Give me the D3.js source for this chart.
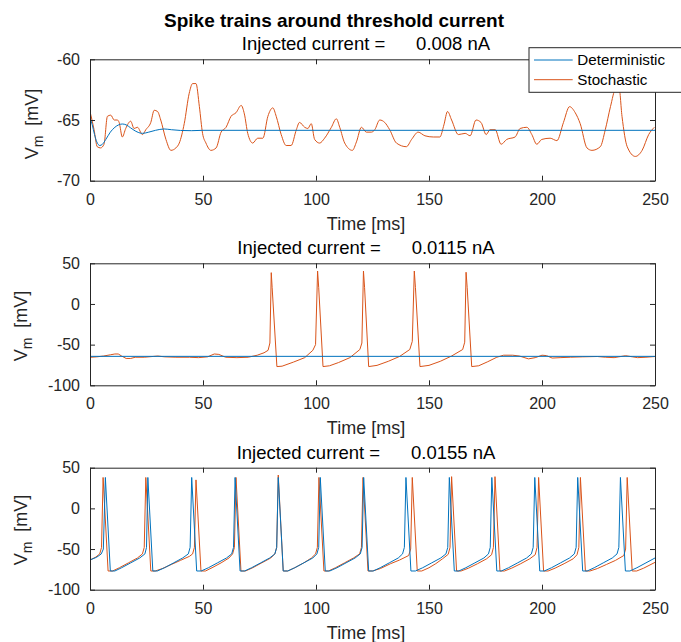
<!DOCTYPE html>
<html><head><meta charset="utf-8">
<script src="https://cdn.jsdelivr.net/npm/d3@7"></script>
<style>
body{margin:0;background:#fff}
svg{display:block}
text{font-family:"Liberation Sans",Arial,Helvetica,sans-serif}
</style>
</head><body>
<svg id="chart" width="681" height="642"></svg>
<script>
// ---------- DATA ----------
const figureTitle = "Spike trains around threshold current";
const currents = ["0.008", "0.0115", "0.0155"];
const seriesNames = ["Deterministic", "Stochastic"];
const timeTicks = [0, 50, 100, 150, 200, 250];
const yTicksTop = [-70, -65, -60];
const yTicksSpike = [-100, -50, 0, 50];
const yDomainTop = [-70, -60];
const yDomainSpike = [-100, 50];

// Panel 1 (0.008 nA): [time ms, Vm mV]
const detTop = [[0,-64.8],[1,-65.4],[2,-66.2],[3,-66.8],[4.3,-67.1],[5.5,-67.0],[7,-66.6],[9,-66.0],[11,-65.6],[12.7,-65.4],[14.3,-65.33],[16,-65.4],[18,-65.65],[20,-65.9],[23.2,-66.1],[26,-66.0],[29,-65.85],[32.8,-65.74],[36,-65.8],[40,-65.86],[45,-65.88],[50,-65.85],[100,-65.85],[150,-65.85],[200,-65.85],[250,-65.85]];
const stoTop = [[0,-64.3],[1.8,-65.8],[3.2,-67.2],[4.7,-67.3],[6.2,-67.0],[7.7,-64.7],[9.2,-64.6],[10.7,-65.0],[12.1,-65.0],[12.9,-65.2],[14.3,-66.4],[15.8,-65.7],[18,-65.1],[19.5,-65.7],[21,-65.6],[23.2,-66.2],[24.7,-65.8],[26.9,-65.2],[28.4,-64.2],[29.9,-64.3],[31.3,-65.0],[33.6,-66.6],[35.8,-67.5],[38,-67.3],[39.5,-66.9],[41.7,-65.3],[43.9,-62.8],[45.4,-62.0],[46.9,-62.0],[48.4,-63.9],[49.8,-66.1],[51.3,-66.9],[53.5,-67.5],[55.8,-67.3],[58,-66.0],[60.2,-65.6],[62.4,-64.7],[64.6,-64.4],[66.9,-63.8],[68.3,-64.5],[69.8,-66.1],[72,-66.9],[74.2,-66.5],[76.5,-66.5],[78.7,-64.7],[80.9,-64.0],[82.4,-64.7],[84.6,-66.2],[86.8,-67.1],[89,-67.1],[91.3,-65.8],[92.7,-65.2],[95,-65.6],[96.4,-65.7],[97.9,-65.3],[99.4,-66.6],[101.6,-66.9],[103.8,-66.5],[106.8,-65.6],[109,-64.9],[110.5,-65.6],[112.7,-66.9],[116.1,-67.5],[117.9,-66.8],[120.1,-65.6],[122.3,-66.0],[124.5,-66.0],[126,-65.8],[128.2,-65.0],[130.4,-65.2],[132.6,-65.8],[135.6,-66.9],[140,-67.2],[142.3,-66.6],[145.2,-66.0],[148.2,-66.3],[151.9,-66.4],[154.8,-66.4],[156.6,-65.4],[158.2,-64.3],[160,-65.0],[163,-66.2],[166,-66.1],[168.2,-66.3],[170.8,-65.0],[173,-65.2],[175.3,-66.2],[177,-65.8],[179.3,-65.8],[181.9,-67.0],[184.4,-66.6],[188.1,-66.4],[190.3,-65.7],[193.3,-65.6],[195.5,-66.2],[197.7,-67.0],[199.9,-66.6],[203.6,-66.5],[206.6,-66.7],[209.5,-65.2],[212.2,-63.9],[214.7,-64.4],[216.9,-65.3],[219.9,-67.3],[222.1,-67.5],[225.8,-67.2],[228,-65.8],[230.3,-63.9],[232.5,-62.4],[234,-62.2],[235.4,-64.7],[237.7,-67.2],[241.3,-68.0],[244.3,-67.5],[247.2,-66.2],[249.7,-65.6]];

// Panel 2 (0.0115 nA)
const detMid = [[0,-64.4],[50,-64.4],[100,-64.4],[150,-64.4],[200,-64.4],[250,-64.4]];
const stoMid = [[0,-65.6],[3,-65],[6,-64],[9,-62.5],[11,-61.5],[12.5,-61.5],[14,-64],[16,-67],[18,-67],[20,-65.5],[24,-65.5],[28,-64.5],[30,-64],[33,-65],[38,-65.5],[44,-65.5],[48,-66],[52,-65],[55,-61.5],[57,-62],[60,-65.5],[65,-66],[70,-65.5],[74,-63],[77,-60],[78.8,-57],[79.6,-48],[80.2,38.5],[80.6,20],[82.7,-77],[85,-76.5],[90,-71.5],[95,-66],[98.6,-57],[99.8,-50],[100.7,40.5],[101.2,20],[103.1,-77],[106,-76],[110,-72],[115,-66],[119.4,-56],[120.3,-48],[121,40.5],[121.5,20],[123.3,-77],[127,-75.5],[132,-70.5],[137,-64.5],[141.5,-56],[142.6,-46],[143.5,40.5],[144,20],[146,-77],[150,-75.5],[155,-70.5],[160,-64],[164.9,-56],[165.8,-47],[166.4,39],[166.9,20],[168.9,-77],[172,-76],[176,-71],[180,-65.5],[183,-63],[187,-63],[190,-64],[194,-67.5],[197,-66],[200,-63],[202,-63.5],[204.5,-66.5],[208,-66],[212.6,-65.5],[218,-65],[224.5,-64.6],[228,-65.5],[231.9,-66],[234,-65],[237,-63.6],[240,-65],[242.3,-66],[246,-65.5],[250,-64.6]];

// Panel 3 (0.0155 nA)
const detBot = [[0,-63.5],[3,-60],[5,-56],[5.9,-50],[6.8,38],[9,-77],[11,-77],[14,-73],[18,-67],[22,-61],[24.3,-56],[25,-48],[25.6,38],[27.8,-77],[29.8,-77],[33,-73],[37,-67],[41,-61],[43.5,-56],[44.3,-48],[45,38],[47.2,-77],[49.2,-77],[52.4,-73],[56.4,-67],[60.4,-61],[62.7,-56],[63.5,-48],[64.2,38],[66.4,-77],[68.4,-77],[71.5,-73],[75.5,-67],[79.5,-61],[81.8,-56],[82.6,-48],[83.3,38],[85.5,-77],[87.5,-77],[90.6,-73],[94.6,-67],[98.6,-61],[100.4,-56],[101.2,-48],[101.9,38],[104.1,-77],[106.1,-77],[109.3,-73],[113.3,-67],[117.3,-61],[119.6,-56],[120.4,-48],[121.1,38],[123.3,-77],[125.3,-77],[128.4,-73],[132.4,-67],[136.4,-61],[138.3,-56],[139.1,-48],[139.8,38],[142,-77],[144,-77],[147.2,-73],[151.2,-67],[155.2,-61],[157.5,-56],[158.3,-48],[159,38],[161.2,-77],[163.2,-77],[166.3,-73],[170.3,-67],[174.3,-61],[176.3,-56],[177.1,-48],[177.8,38],[180,-77],[182,-77],[185.2,-73],[189.2,-67],[193.2,-61],[195.3,-56],[196.1,-48],[196.8,38],[199,-77],[201,-77],[204.2,-73],[208.2,-67],[212.2,-61],[214.3,-56],[215.1,-48],[215.8,38],[218,-77],[220,-77],[223.1,-73],[227.1,-67],[231.1,-61],[233.2,-56],[234,-48],[234.7,38],[236.9,-77],[238.9,-77],[242,-73],[246,-67],[250,-61]];
const stoBot = [[0,-63.5],[2.5,-60],[4.3,-56],[5.1,-48],[5.8,38],[8,-77],[10,-77],[13,-73],[17,-67],[21,-61],[23.2,-56],[24,-48],[24.7,38],[26.9,-77],[28.9,-77],[32,-74],[36,-69],[40,-64],[44,-59],[45.4,-56],[46.2,-48],[46.9,35],[49.1,-77],[51.1,-77],[54,-73],[58,-67],[61.5,-61],[63.1,-56],[63.9,-48],[64.6,38],[66.8,-77],[68.8,-77],[72,-73],[76,-67],[80,-61],[81.8,-56],[82.6,-48],[83.3,41],[85.5,-77],[87.5,-77],[90.6,-73],[94.6,-67],[98,-61],[99.8,-56],[100.6,-48],[101.3,38],[103.5,-77],[105.5,-77],[108.6,-73],[112.6,-67],[116.6,-61],[119.3,-56],[120.1,-48],[120.8,38],[123,-77],[125,-77],[128.5,-74],[133,-68],[137,-63.5],[141,-58],[141.9,-50],[142.6,38],[144.8,-77],[146.8,-77],[150,-73],[153,-68],[156,-62],[158.5,-56.5],[159.3,-48],[160,39],[162.2,-77],[164.2,-77],[167.5,-73.5],[171.5,-68],[175.5,-62],[177.7,-57],[178.5,-48],[179.2,39],[181.4,-77],[183.4,-77],[186.6,-73.5],[190.6,-68],[194.6,-62],[197,-57],[197.8,-48],[198.5,38],[200.7,-77],[202.7,-77],[205.8,-73.5],[209.8,-68],[213.8,-62],[215.5,-57],[216.3,-48],[217,38],[219.2,-77],[221.2,-77],[224.5,-74],[228.5,-69],[232.5,-64],[236.2,-58],[237,-50],[237.7,38],[239.9,-77],[241.9,-77],[245,-73.5],[250,-66.4]];

// ---------- LAYOUT / STYLE ----------
const colors = ["#0072BD", "#D95319"];
const axisColor = "#262626";
const L = 90, R = 655;
const panels = [
  {top: 59.3, bottom: 180.7, dom: yDomainTop, ticks: yTicksTop, det: detTop, sto: stoTop, cur: currents[0], ylabX: 38, ylabY: 124, spaces: "      ", smooth: true},
  {top: 263.3, bottom: 385.3, dom: yDomainSpike, ticks: yTicksSpike, det: detMid, sto: stoMid, cur: currents[1], ylabX: 27, ylabY: 326, spaces: "      ", smooth: false},
  {top: 467.7, bottom: 589.7, dom: yDomainSpike, ticks: yTicksSpike, det: detBot, sto: stoBot, cur: currents[2], ylabX: 27, ylabY: 530, spaces: "      ", smooth: false}
];

const svg = d3.select("#chart");
const x = d3.scaleLinear().domain([0, 250]).range([L, R]);
const fmt = d => String(d);

svg.append("text").attr("x", 334).attr("y", 27)
  .attr("text-anchor", "middle").attr("font-size", 19).attr("font-weight", "bold")
  .attr("fill", "#000").text(figureTitle);

panels.forEach((p, i) => {
  const y = d3.scaleLinear().domain(p.dom).range([p.bottom, p.top]);
  const g = svg.append("g");
  const clipId = "clip" + i;
  svg.append("clipPath").attr("id", clipId).append("rect")
    .attr("x", L).attr("y", p.top).attr("width", R - L).attr("height", p.bottom - p.top);

  const line = d3.line().x(d => x(d[0])).y(d => y(d[1]))
    .curve(p.smooth ? d3.curveMonotoneX : d3.curveLinear);
  const lg = g.append("g").attr("clip-path", `url(#${clipId})`);
  lg.append("path").datum(p.sto).attr("d", line).attr("fill", "none")
    .attr("stroke", colors[1]).attr("stroke-width", 1).attr("stroke-linejoin", "round");
  lg.append("path").datum(p.det).attr("d", line).attr("fill", "none")
    .attr("stroke", colors[0]).attr("stroke-width", 1).attr("stroke-linejoin", "round");

  const styleAxis = (sel, showLabels) => {
    sel.select(".domain").attr("stroke", axisColor).attr("stroke-width", 1);
    sel.selectAll(".tick line").attr("stroke", axisColor).attr("stroke-width", 1);
    sel.selectAll(".tick text").attr("fill", axisColor).attr("font-size", 16)
      .attr("font-family", '"Liberation Sans",Arial,sans-serif');
    if (!showLabels) sel.selectAll(".tick text").remove();
  };
  g.append("g").attr("transform", `translate(0,${p.bottom})`)
    .call(d3.axisBottom(x).tickValues(timeTicks).tickFormat(fmt).tickSizeInner(-5).tickSizeOuter(0).tickPadding(12.5))
    .call(s => styleAxis(s, true));
  g.append("g").attr("transform", `translate(0,${p.top})`)
    .call(d3.axisTop(x).tickValues(timeTicks).tickSizeInner(-5).tickSizeOuter(0))
    .call(s => styleAxis(s, false));
  g.append("g").attr("transform", `translate(${L},0)`)
    .call(d3.axisLeft(y).tickValues(p.ticks).tickFormat(fmt).tickSizeInner(-5).tickSizeOuter(0).tickPadding(10))
    .call(s => styleAxis(s, true));
  g.append("g").attr("transform", `translate(${R},0)`)
    .call(d3.axisRight(y).tickValues(p.ticks).tickSizeInner(-5).tickSizeOuter(0))
    .call(s => styleAxis(s, false));
  g.selectAll(".domain").attr("fill", "none");

  // subtitle
  g.append("text").attr("x", 366).attr("y", p.top - 9)
    .attr("text-anchor", "middle").attr("font-size", 18.5).attr("fill", "#000")
    .style("white-space", "pre")
    .text("Injected current =" + p.spaces + p.cur + " nA");
  // x label
  g.append("text").attr("x", 366).attr("y", p.bottom + 49)
    .attr("text-anchor", "middle").attr("font-size", 18).attr("fill", axisColor)
    .text("Time [ms]");
  // y label
  const yl = g.append("text").attr("transform", `translate(${p.ylabX},${p.ylabY}) rotate(-90)`)
    .attr("text-anchor", "middle").attr("font-size", 18).attr("fill", axisColor)
    .style("white-space", "pre");
  yl.append("tspan").text("V");
  yl.append("tspan").attr("font-size", 14).attr("dy", 5).text("m");
  yl.append("tspan").attr("dy", -5).text("  [mV]");
});

// legend
const lgd = svg.append("g");
lgd.append("rect").attr("x", 529).attr("y", 47.7).attr("width", 170).attr("height", 44.6)
  .attr("fill", "#fff").attr("stroke", axisColor).attr("stroke-width", 1);
seriesNames.forEach((n, i) => {
  const cy = 60 + i * 19.7;
  lgd.append("line").attr("x1", 534).attr("x2", 572.7).attr("y1", cy).attr("y2", cy)
    .attr("stroke", colors[i]).attr("stroke-width", 1);
  lgd.append("text").attr("x", 577.3).attr("y", cy + 5.3).attr("font-size", 15.2)
    .attr("fill", "#000").text(n);
});
</script>
</body></html>
